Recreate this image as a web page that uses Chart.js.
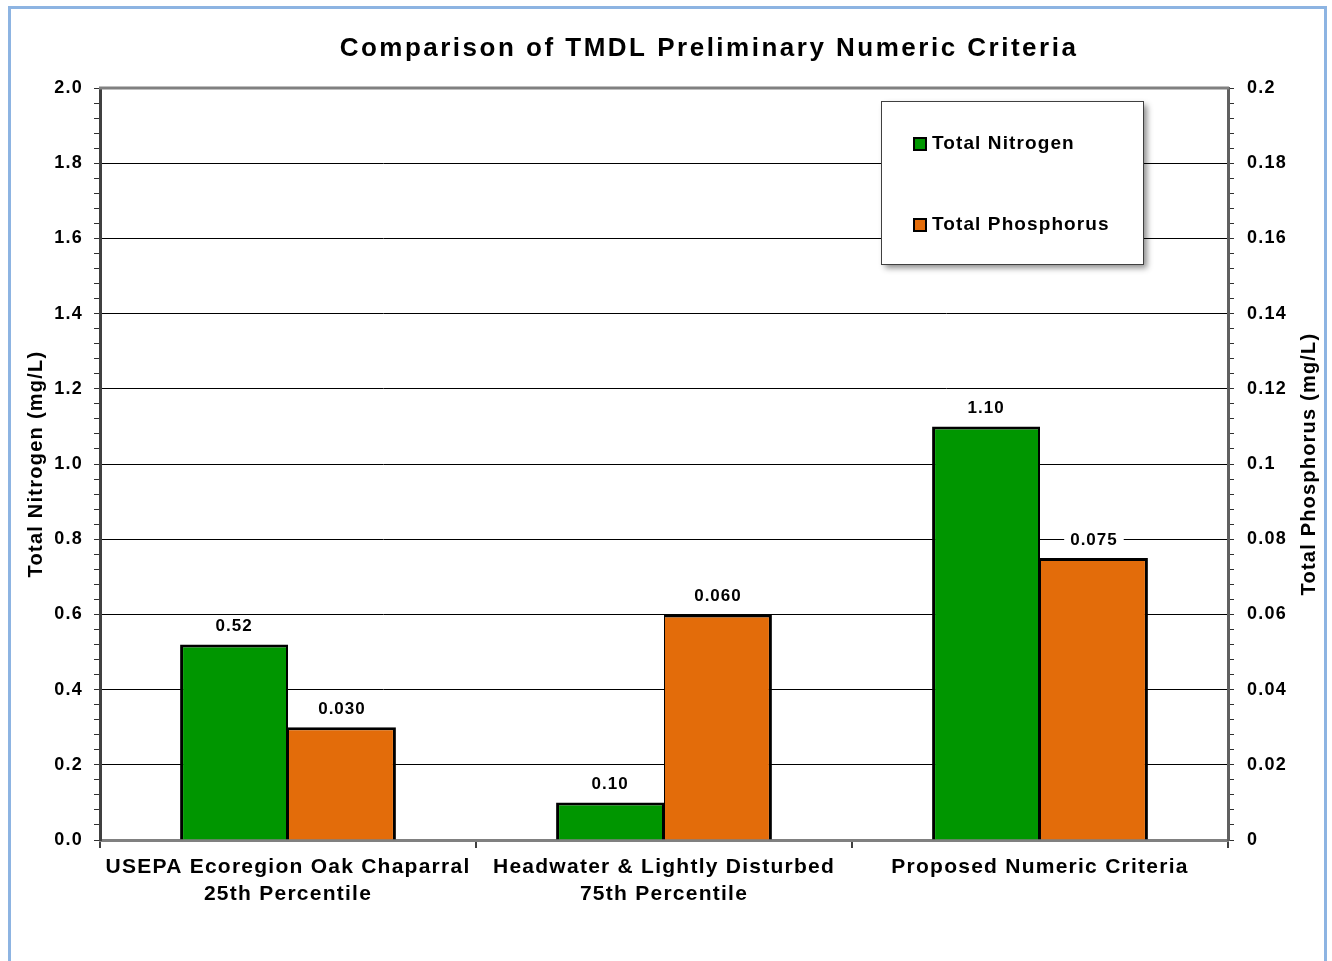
<!DOCTYPE html>
<html>
<head>
<meta charset="utf-8">
<script src="https://cdn.jsdelivr.net/npm/chart.js@4"></script>
<style>
  html, body { margin: 0; padding: 0; background: #fff; }
  #wrap { position: relative; width: 1332px; height: 961px; }
</style>
</head>
<body>
<div id="wrap"><canvas id="c" width="1332" height="961"></canvas></div>
<script>
// data
const categories = [
  ['USEPA Ecoregion Oak Chaparral', '25th Percentile'],
  ['Headwater & Lightly Disturbed', '75th Percentile'],
  ['Proposed Numeric Criteria']
];
const nitrogen = [0.52, 0.10, 1.10];      // mg/L, left axis
const phosphorus = [0.030, 0.060, 0.075]; // mg/L, right axis
const chartTitle = 'Comparison of TMDL Preliminary Numeric Criteria';
const leftTitle = 'Total Nitrogen (mg/L)';
const rightTitle = 'Total Phosphorus (mg/L)';

const FONT = '"Liberation Sans", Arial, sans-serif';
const GREEN = '#009600';
const ORANGE = '#E36C0A';
const SPACING = '1.25px'; // the reference text is set quite wide

function buildTicks(max, step) {
  const out = [];
  for (let i = 0; i <= Math.round(max / step); i++) out.push({ value: +(i * step).toFixed(6) });
  return out;
}
function isMajor(v, major) {
  return Math.abs(v / major - Math.round(v / major)) < 1e-6;
}

// frame, title, top border, right axis title, legend, value labels
const decor = {
  id: 'decor',
  beforeUpdate(chart) { chart.ctx.letterSpacing = SPACING; },
  beforeDraw(chart) {
    const ctx = chart.ctx;
    ctx.letterSpacing = SPACING;
    ctx.save();
    ctx.fillStyle = '#fff';
    ctx.fillRect(0, 0, chart.width, chart.height);
    ctx.restore();
  },
  afterDatasetsDraw(chart) {
    const ctx = chart.ctx;
    ctx.save();
    ctx.letterSpacing = '1px';
    ctx.font = 'bold 17px ' + FONT;
    ctx.textAlign = 'center';
    ctx.textBaseline = 'middle';
    chart.data.datasets.forEach((ds, di) => {
      const meta = chart.getDatasetMeta(di);
      meta.data.forEach((bar, i) => {
        const txt = ds.data[i].toFixed(di === 0 ? 2 : 3);
        const w = ctx.measureText(txt).width + 12;
        const y = bar.y - 18;
        ctx.fillStyle = '#fff';
        ctx.fillRect(bar.x - w / 2, y - 10, w, 20);
        ctx.fillStyle = '#000';
        ctx.fillText(txt, bar.x, y);
      });
    });
    ctx.restore();
  },
  afterDraw(chart) {
    const ctx = chart.ctx;
    const a = chart.chartArea;
    ctx.save();
    // top border of plot area
    ctx.strokeStyle = '#808080';
    ctx.lineWidth = 3;
    ctx.beginPath();
    ctx.moveTo(a.left - 1, a.top);
    ctx.lineTo(a.right + 1, a.top);
    ctx.stroke();

    // outer frame
    ctx.strokeStyle = '#8DB4E2';
    ctx.lineWidth = 3;
    ctx.strokeRect(9.5, 7.5, 1316, 1000);

    // title
    ctx.fillStyle = '#000';
    ctx.letterSpacing = '2.5px';
    ctx.font = 'bold 26px ' + FONT;
    ctx.textAlign = 'center';
    ctx.textBaseline = 'middle';
    ctx.fillText(chartTitle, 709, 49);

    // right axis title, reading bottom to top
    ctx.letterSpacing = '1.2px';
    ctx.font = 'bold 20px ' + FONT;
    ctx.translate(1309, (a.top + a.bottom) / 2);
    ctx.rotate(-Math.PI / 2);
    ctx.fillText(rightTitle, 0, 0);
    ctx.setTransform(1, 0, 0, 1, 0, 0);

    // legend box
    const lx = 881, ly = 101, lw = 262, lh = 163;
    ctx.save();
    ctx.shadowColor = 'rgba(0,0,0,0.45)';
    ctx.shadowBlur = 6;
    ctx.shadowOffsetX = 4;
    ctx.shadowOffsetY = 4;
    ctx.fillStyle = '#fff';
    ctx.fillRect(lx, ly, lw, lh);
    ctx.restore();
    ctx.strokeStyle = '#404040';
    ctx.lineWidth = 1;
    ctx.strokeRect(lx + 0.5, ly + 0.5, lw, lh);

    ctx.letterSpacing = '1.1px';
    ctx.font = 'bold 19px ' + FONT;
    ctx.textAlign = 'left';
    ctx.textBaseline = 'middle';
    const rows = [144, 225];
    chart.data.datasets.forEach((ds, i) => {
      const y = rows[i];
      ctx.fillStyle = ds.backgroundColor;
      ctx.fillRect(914, y - 6, 12, 12);
      ctx.strokeStyle = '#000';
      ctx.lineWidth = 2;
      ctx.strokeRect(914, y - 6, 12, 12);
      ctx.fillStyle = '#000';
      ctx.fillText(ds.label, 932, y);
    });
    ctx.restore();
  }
};

new Chart(document.getElementById('c'), {
  type: 'bar',
  data: {
    labels: categories,
    datasets: [
      {
        label: 'Total Nitrogen',
        data: nitrogen,
        yAxisID: 'y',
        backgroundColor: GREEN,
        borderColor: '#000',
        borderWidth: { left: 3, top: 3, right: 2, bottom: 0 },
        categoryPercentage: 0.574,
        barPercentage: 1.0
      },
      {
        label: 'Total Phosphorus',
        data: phosphorus,
        yAxisID: 'y1',
        backgroundColor: ORANGE,
        borderColor: '#000',
        borderWidth: { left: 1, top: 3, right: 3, bottom: 0 },
        categoryPercentage: 0.574,
        barPercentage: 1.0
      }
    ]
  },
  options: {
    responsive: false,
    animation: false,
    layout: { padding: { left: 20, right: 10, top: 88, bottom: 0 } },
    plugins: {
      legend: { display: false },
      title: { display: false },
      tooltip: { enabled: false }
    },
    scales: {
      x: {
        grid: {
          offset: true,
          drawOnChartArea: false,
          tickLength: 8,
          tickColor: '#404040',
          lineWidth: 2
        },
        border: { color: '#808080', width: 3 },
        ticks: {
          color: '#000',
          padding: 6,
          maxRotation: 0,
          autoSkip: false,
          font: { family: FONT, size: 21, weight: 'bold', lineHeight: 1.29 }
        },
        afterFit(s) { s.height = 121; }
      },
      y: {
        position: 'left',
        min: 0,
        max: 2,
        afterBuildTicks(s) { s.ticks = buildTicks(2, 0.04); },
        grid: {
          color: c => (isMajor(c.tick.value, 0.2) && c.tick.value > 0 && c.tick.value < 2) ? '#000' : 'rgba(0,0,0,0)',
          tickColor: '#303030',
          tickLength: 6,
          lineWidth: 1
        },
        border: { color: '#404040', width: 3 },
        ticks: {
          color: '#000',
          padding: 11,
          autoSkip: false,
          font: { family: FONT, size: 18, weight: 'bold' },
          callback: v => isMajor(v, 0.2) ? v.toFixed(1) : ''
        },
        title: {
          display: true,
          text: leftTitle,
          color: '#000',
          padding: { top: 4, bottom: 0 },
          font: { family: FONT, size: 20, weight: 'bold' }
        },
        afterFit(s) { s.width = 80; }
      },
      y1: {
        position: 'right',
        min: 0,
        max: 0.2,
        afterBuildTicks(s) { s.ticks = buildTicks(0.2, 0.004); },
        grid: {
          drawOnChartArea: false,
          tickColor: '#303030',
          tickLength: 6,
          lineWidth: 1
        },
        border: { color: '#606060', width: 3 },
        ticks: {
          color: '#000',
          padding: 13,
          autoSkip: false,
          font: { family: FONT, size: 18, weight: 'bold' },
          callback: v => isMajor(v, 0.02) ? String(+v.toFixed(2)) : ''
        },
        afterFit(s) { s.width = 94; }
      }
    }
  },
  plugins: [decor]
});
</script>
</body>
</html>
